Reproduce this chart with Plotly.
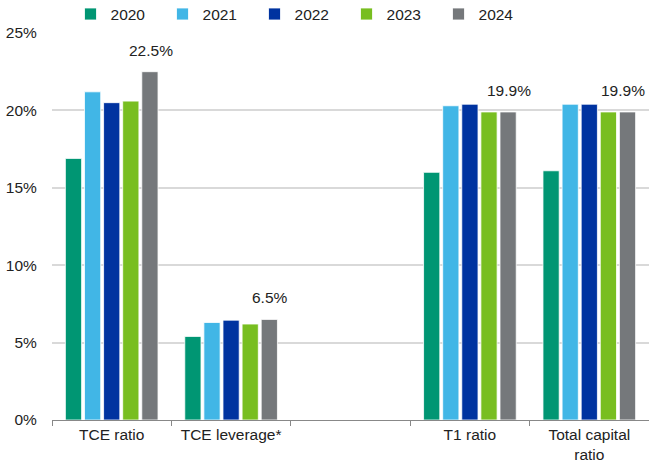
import plotly.graph_objects as go

categories = ["TCE ratio", "TCE leverage*", " ", "T1 ratio", "Total capital<br>ratio"]
years = ["2020", "2021", "2022", "2023", "2024"]
values = {
    "2020": [16.9, 5.4, None, 16.0, 16.1],
    "2021": [21.2, 6.3, None, 20.3, 20.4],
    "2022": [20.5, 6.45, None, 20.4, 20.4],
    "2023": [20.6, 6.2, None, 19.9, 19.9],
    "2024": [22.5, 6.5, None, 19.9, 19.9],
}
colors = ["#009673", "#41B6E6", "#0033A0", "#78BE20", "#75787B"]

fig = go.Figure()
for y, c in zip(years, colors):
    fig.add_trace(go.Bar(
        name=y, x=categories, y=values[y],
        marker=dict(color=c, line=dict(color="white", width=0.8)),
    ))

# labels on 2024 bars
n_lab = sum(v is not None for v in values["2024"])
k = 0
for cat, v in zip(categories, values["2024"]):
    if v is None:
        continue
    k += 1
    last = k == n_lab
    fig.add_annotation(
        x=cat, y=v, text=f"{v:.1f}%", showarrow=False,
        xshift=58 if last else 39, xanchor="right" if last else "center",
        yshift=11, yanchor="bottom",
        font=dict(size=15.5, color="#222"),
    )

fig.update_layout(
    width=649, height=466,
    margin=dict(l=52, r=0, t=33, b=46, autoexpand=False),
    paper_bgcolor="white", plot_bgcolor="white",
    font=dict(family="Liberation Sans, Arial, sans-serif", size=15.5, color="#222"),
    barmode="group", bargap=0.2, bargroupgap=0.15,
    showlegend=True,
    legend=dict(orientation="h", x=0.031, y=1.048, xanchor="left", yanchor="middle",
                entrywidth=47, entrywidthmode="pixels",
                font=dict(size=15.5), itemwidth=30, traceorder="normal"),
    xaxis=dict(showline=True, linecolor="#888", linewidth=1,
               ticks="outside", tickcolor="#888", ticklen=5, tickson="boundaries",
               showgrid=False),
    yaxis=dict(range=[0, 25], dtick=5, ticksuffix="%", showline=False,
               gridcolor="#D9D9D9", gridwidth=1.5, zeroline=False,
               ticks="outside", tickcolor="rgba(0,0,0,0)", ticklen=11),
)

fig.write_html("out.html", config={"displayModeBar": False},
               post_script="document.body.style.margin='0';")
